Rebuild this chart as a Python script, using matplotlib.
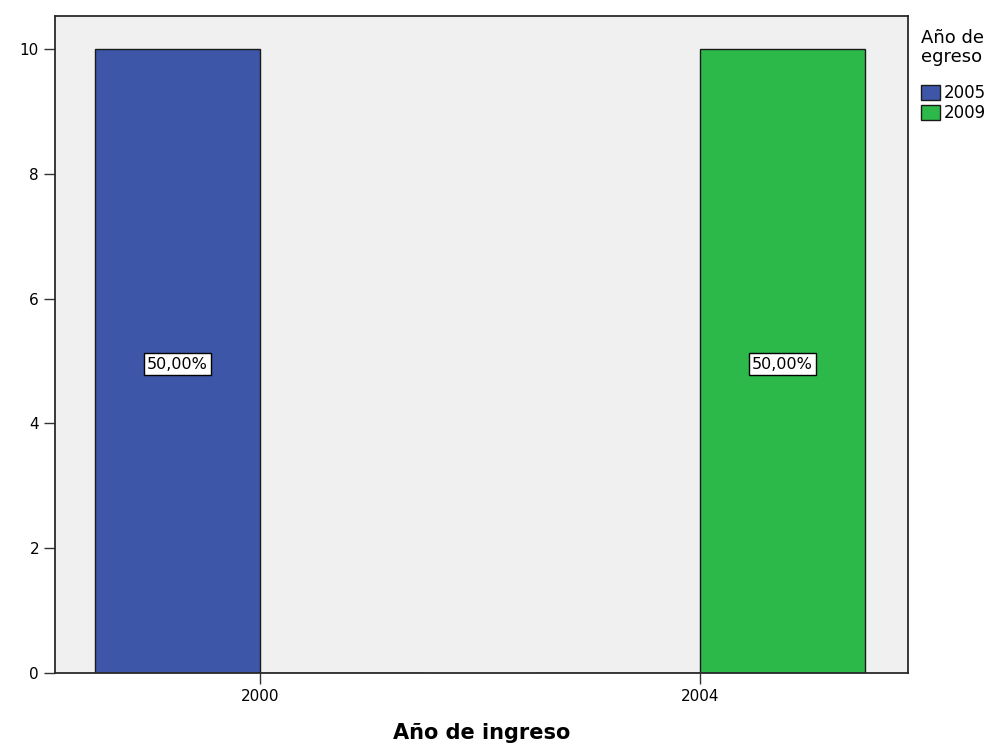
import matplotlib
matplotlib.use('Agg')
import matplotlib.pyplot as plt
from matplotlib.patches import Patch
import numpy as np

# data
ingreso = ['2000', '2004']
egreso = ['2005', '2009']
counts_2005 = [10, 0]
counts_2009 = [0, 10]
pct_labels = ['50,00%', '50,00%']
colors = ['#3d56a8', '#2db84a']

W, H = 1008, 744
fig = plt.figure(figsize=(W / 100, H / 100), dpi=100)
ax = fig.add_axes([55 / W, 71 / H, 853 / W, 657 / H])
ax.set_facecolor('#f0f0f0')

x = np.arange(len(ingreso))
w = 0.375
ax.bar(x - w/2, counts_2005, w, color=colors[0], edgecolor='#1a1a1a', linewidth=1.0)
ax.bar(x + w/2, counts_2009, w, color=colors[1], edgecolor='#1a1a1a', linewidth=1.0)

# percentage labels in the middle of the visible bars
for i in range(len(ingreso)):
    if counts_2005[i] > 0:
        xc, h = x[i] - w/2, counts_2005[i]
    else:
        xc, h = x[i] + w/2, counts_2009[i]
    ax.text(xc, h / 2 - 0.05, pct_labels[i], ha='center', va='center', fontsize=11.5,
            bbox=dict(boxstyle='square,pad=0.2', fc='white', ec='black', lw=1))

ax.set_xlim(-0.466, 1.473)
ax.set_ylim(0, 10.53)
ax.set_xticks(x)
ax.set_xticklabels(ingreso)
ax.set_yticks([0, 2, 4, 6, 8, 10])
ax.tick_params(axis='both', direction='out', length=8, width=1, color='#333333', labelsize=11)
for s in ax.spines.values():
    s.set_color('#2a2a2a')
    s.set_linewidth(1.3)
ax.set_xlabel('Año de ingreso', fontsize=15, fontweight='bold', labelpad=14)

# legend title drawn apart so the gap below it matches
fig.text(921 / W, 1 - 29 / H, 'Año de\negreso', ha='left', va='top', fontsize=13,
         linespacing=1.05)
handles = [Patch(facecolor=colors[0], edgecolor='#1a1a1a', label=egreso[0]),
           Patch(facecolor=colors[1], edgecolor='#1a1a1a', label=egreso[1])]
fig.legend(handles=handles, loc='upper left', bbox_to_anchor=(918 / W, 1 - 81 / H),
           frameon=False, fontsize=12, handlelength=1.1, handleheight=0.95,
           handletextpad=0.25, labelspacing=0.12, borderpad=0.2, borderaxespad=0)

fig.savefig('out.png', dpi=100)
